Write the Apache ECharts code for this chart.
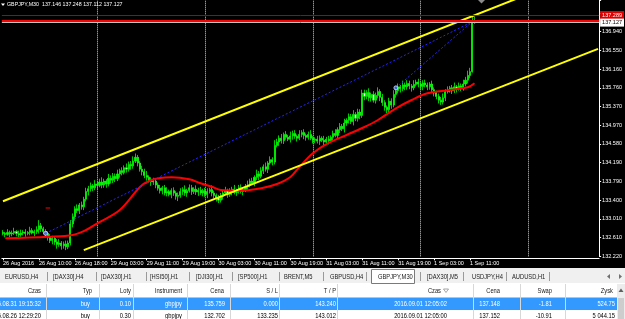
<!DOCTYPE html>
<html><head><meta charset="utf-8">
<script src="https://cdn.jsdelivr.net/npm/echarts@6/dist/echarts.min.js"></script>
<style>html,body{margin:0;padding:0;background:#000;overflow:hidden}#c{width:625px;height:319px}</style>
</head><body><div id="c"></div>
<script>
// ---------- data ----------
const timeLabels = ['26 Aug 2016','26 Aug 10:00','26 Aug 18:00','29 Aug 03:00','29 Aug 11:00','29 Aug 19:00','30 Aug 03:00','30 Aug 11:00','30 Aug 19:00','31 Aug 03:00','31 Aug 11:00','31 Aug 19:00','1 Sep 03:00','1 Sep 11:00'];
const priceLabels = ['132.220','132.610','133.010','133.400','133.790','134.190','134.580','134.970','135.370','135.760','136.160','136.550','136.940'];
const firstOpen = 132.72;
const closes = [
132.70,132.68,132.72,132.69,132.71,132.74,132.70,132.67,132.71,132.73,
132.70,132.72,132.76,132.71,132.74,132.78,132.86,132.80,132.74,132.70,
132.62,132.55,132.60,132.52,132.47,132.50,132.44,132.48,132.42,132.50,
132.90,133.05,133.22,133.18,133.30,133.26,133.42,133.58,133.64,133.70,
133.66,133.74,133.71,133.78,133.72,133.80,133.74,133.86,133.82,133.90,
133.85,133.95,134.02,133.98,134.08,134.05,134.15,134.12,134.22,134.30,
134.18,134.05,134.00,133.92,133.88,133.82,133.78,133.80,133.72,133.65,
133.60,133.66,133.55,133.58,133.52,133.60,133.55,133.48,133.50,133.58,
133.62,133.55,133.60,133.66,133.58,133.63,133.57,133.61,133.55,133.60,
133.52,133.58,133.62,133.55,133.50,133.45,133.40,133.48,133.55,133.60,
133.52,133.58,133.63,133.56,133.60,133.66,133.58,133.62,133.68,133.72,
133.80,133.76,133.88,133.95,133.90,134.02,134.10,134.05,134.18,134.25,
134.20,134.55,134.62,134.70,134.65,134.78,134.72,134.68,134.75,134.80,
134.74,134.70,134.78,134.82,134.76,134.72,134.78,134.70,134.66,134.68,
134.64,134.70,134.66,134.62,134.68,134.65,134.72,134.80,134.76,134.88,
134.95,134.90,135.02,135.08,135.15,135.05,135.20,135.12,135.25,135.18,
135.65,135.58,135.66,135.55,135.62,135.50,135.60,135.68,135.56,135.45,
135.35,135.30,135.48,135.40,135.62,135.70,135.78,135.74,135.82,135.78,
135.85,135.80,135.76,135.83,135.88,135.84,135.79,135.86,135.82,135.78,
135.84,135.72,135.66,135.58,135.50,135.46,135.55,135.68,135.72,135.76,
135.70,135.78,135.74,135.80,135.76,135.84,135.92,136.02,136.10,137.15,
137.127];
// upper / lower wicks in hundredths of a yen
const wickUp = [
5,3,7,4,5,8,3,6,7,4, 6,3,8,5,4,7,12,6,4,5, 4,7,5,3,6,8,4,5,7,5, 8,7,5,9,4,7,5,8,6,7,
4,8,6,7,10,5,4,9,6,7, 6,9,4,7,5,9,6,7,10,8, 5,4,7,6,9,4,6,7,4,5, 7,4,6,9,4,5,7,4,6,7,
5,9,4,7,6,4,8,5,7,4, 6,7,4,9,5,4,6,7,5,8, 4,7,5,9,4,6,7,4,6,9, 5,7,4,9,6,7,5,9,4,7,
5,11,7,6,9,4,7,5,9,6, 7,4,9,5,7,4,6,9,5,4, 7,6,4,9,5,7,4,6,9,5, 7,5,9,4,7,6,9,5,7,6,
7,7,5,9,4,7,6,9,5,7, 5,4,7,6,9,5,7,4,9,5, 7,6,4,9,5,7,4,6,7,5, 4,7,5,4,6,7,9,5,7,4,
6,9,4,7,5,9,7,10,8,11, 10];
const wickDown = [
4,6,3,7,5,4,6,7,4,5, 7,4,6,3,7,5,8,7,5,9, 7,5,8,6,9,5,8,6,7,5, 5,7,8,5,7,6,7,5,8,6,
7,5,8,4,7,6,8,5,7,6, 7,5,8,6,4,7,5,8,6,4, 7,5,8,6,7,5,8,6,7,5, 6,8,5,7,4,8,6,7,10,5,
7,6,8,4,7,5,6,8,4,7, 5,8,4,7,6,8,6,5,7,4, 7,5,8,4,7,6,4,8,5,7, 5,4,7,6,8,4,7,5,8,4,
7,5,4,8,6,7,5,4,7,8, 5,7,4,6,8,7,5,4,7,6, 5,8,4,7,6,8,5,7,4,6, 7,5,8,6,7,5,8,6,7,8,
5,8,6,7,8,5,7,6,8,7, 7,7,6,8,5,7,6,8,5,7, 6,7,8,5,4,7,6,8,5,7, 6,7,8,6,7,6,5,7,4,6,
7,5,8,4,7,6,5,7,6,2, 2];
const maIndex  = [1,20,31,37,42,52,61,65,70,75,83,88,93,97,106,115,122,128,132,138,145,153,161,167,175,182,189,199,207,210];
const maValues = [132.598,132.632,132.668,132.773,132.913,133.193,133.676,133.802,133.865,133.880,133.838,133.754,133.682,133.613,133.598,133.649,133.739,133.886,134.096,134.384,134.601,134.769,134.937,135.084,135.330,135.504,135.645,135.714,135.771,135.855];
const upperChannel = [[0,133.376],[265,138.307]];
const lowerChannel = [[36,132.349],[265,136.577]];
const tradeOpenIdx = [19,175];
const tradeOpenPrice = [132.702,135.759];
const tradeCloseIdx = 209;
const tradeClosePrice = 137.148;
const stopLoss = 133.235;
const levelLine = 137.289, askPrice = 137.167, bidPrice = 137.127;
const dayGridIdx = [42,90,138,186,234];
const totalSlots = 266;

// ---------- build ----------
const cats = [];
for (let i = 0; i < totalSlots; i++) cats.push(String(i));
const ohlc = closes.map((c, i) => {
  const o = i === 0 ? firstOpen : closes[i - 1];
  return [o, c, Math.min(o, c) - wickDown[i] / 100, Math.max(o, c) + wickUp[i] / 100];
});
const ma = maIndex.map((x, k) => [x, maValues[k]]);
const yMin = 132.22, yStep = 0.393333, yMax = 137.605;
const FONT = 'Liberation Sans, Arial, sans-serif';

const chart = echarts.init(document.getElementById('c'), null, {renderer: 'canvas'});

function T(x, y, text, opt) {
  opt = opt || {};
  return {type: 'text', x: x, y: y, scaleX: opt.sx || 0.72, z: 100,
    style: {text: text, fill: opt.color || '#000', font: (opt.size || 8) + 'px ' + FONT,
      align: opt.align || 'left', verticalAlign: 'middle', textAlign: opt.align || 'left', textVerticalAlign: 'middle'}};
}
const g = [];
g.push({type: 'polygon', shape: {points: [[1,3.5],[5,3.5],[3,6]]}, style: {fill: '#fff'}, z: 100});
g.push(T(7, 5, 'GBPJPY,M30  137.146 137.248 137.112 137.127', {color: '#fff', size: 5.3, sx: 1}));
g.push({type: 'polygon', shape: {points: [[478,0],[485,0],[481.5,3.5]]}, style: {fill: '#8a8a8a'}, z: 100});
g.push({type: 'rect', shape: {x: 0, y: 268, width: 625, height: 15}, style: {fill: '#f0f0f0'}, z: 90});
g.push({type: 'rect', shape: {x: 371.5, y: 269.5, width: 43, height: 14}, style: {fill: '#fff', stroke: '#7a7a7a', lineWidth: 1}, z: 91});
const tabs = [['EURUSD,H4',5],['[DAX30],H4',53],['[DAX30],H1',101],['[HSI50],H1',150],['[DJI30],H1',196],['[SP500],H1',238],['BRENT,M5',284],['GBPUSD,H4',330],['GBPJPY,M30',378],['[DAX30],M5',427],['USDJPY,H4',472],['AUDUSD,H1',512]];
tabs.forEach(t => g.push(T(t[1], 276.5, t[0], {color: '#202020'})));
[47,96,146,189,232,279,323,366,420,463,506,549].forEach(x => g.push({type: 'line', shape: {x1: x + 0.5, y1: 272, x2: x + 0.5, y2: 281}, style: {stroke: '#9a9a9a', lineWidth: 1}, z: 92}));
g.push({type: 'polygon', shape: {points: [[610,274],[610,279],[607,276.5]]}, style: {fill: '#707070'}, z: 92});
g.push({type: 'polygon', shape: {points: [[619,274],[619,279],[622,276.5]]}, style: {fill: '#707070'}, z: 92});
g.push({type: 'rect', shape: {x: 0, y: 283, width: 625, height: 36}, style: {fill: '#fff'}, z: 90});
g.push({type: 'rect', shape: {x: 0, y: 297.5, width: 617, height: 12.5}, style: {fill: '#3399ff'}, z: 91});
const colSep = [46,99,133,187,230,279,337,473,520,565,617];
colSep.forEach(x => g.push({type: 'line', shape: {x1: x + 0.5, y1: 284, x2: x + 0.5, y2: 319}, style: {stroke: '#d8d8d8', lineWidth: 1}, z: 92}));
const headers = [['Czas',41],['Typ',92],['Loty',131],['Instrument',182],['Cena',224],['S / L',278],['T / P',336],['Czas',441],['Cena',500],['Swap',552],['Zysk',613]];
headers.forEach(h => g.push(T(h[1], 290.5, h[0], {color: '#202020', align: 'right'})));
g.push({type: 'polygon', shape: {points: [[443.5,289],[448.5,289],[446,292.5]]}, style: {stroke: '#909090', fill: '#fff', lineWidth: 0.8}, z: 93});
const row1 = [['2016.08.31 19:15:32',41],['buy',90],['0.10',131],['gbpjpy',182],['135.759',225],['0.000',278],['143.240',336],['2016.09.01 12:05:02',447],['137.148',500],['-1.81',552],['524.75',615]];
const row2 = [['2016.08.26 12:29:20',41],['buy',90],['0.30',131],['gbpjpy',182],['132.702',225],['133.235',278],['143.012',336],['2016.09.01 12:05:00',447],['137.152',500],['-10.91',552],['5 044.15',615]];
row1.forEach(c => g.push(T(c[1], 303.7, c[0], {color: '#fff', align: 'right'})));
row2.forEach(c => g.push(T(c[1], 315.5, c[0], {color: '#000', align: 'right'})));
g.push({type: 'rect', shape: {x: 617, y: 284, width: 8, height: 35}, style: {fill: '#ececec'}, z: 93});
g.push({type: 'polygon', shape: {points: [[618.5,292],[623.5,292],[621,288.5]]}, style: {fill: '#606060'}, z: 94});
g.push({type: 'rect', shape: {x: 618, y: 298, width: 6, height: 21}, style: {fill: '#cdcdcd'}, z: 94});

const option = {
  backgroundColor: '#000',
  animation: false,
  grid: {left: -2.64, top: 0, width: 606.4, height: 256.3, containLabel: false},
  xAxis: {
    type: 'category', data: cats, boundaryGap: true, offset: 2,
    axisLine: {show: true, lineStyle: {color: '#fff', width: 1}},
    axisTick: {show: true, alignWithLabel: true, length: 2, lineStyle: {color: '#fff'},
      interval: (i) => i % 16 === 0 && i / 16 < timeLabels.length},
    axisLabel: {color: '#fff', fontSize: 5.5, fontFamily: FONT, align: 'left', margin: 2,
      interval: (i) => i % 16 === 0 && i / 16 < timeLabels.length,
      formatter: (v, i) => (i % 16 === 0 && i / 16 < timeLabels.length) ? timeLabels[i / 16] : ''},
    splitLine: {show: false}
  },
  yAxis: {
    type: 'value', position: 'right', min: yMin, max: yMax, interval: yStep, scale: true,
    axisLine: {show: true, lineStyle: {color: '#fff', width: 1}},
    axisTick: {show: true, length: 2, lineStyle: {color: '#fff'}},
    axisLabel: {color: '#fff', fontSize: 5.5, fontFamily: FONT, margin: 3,
      formatter: (v) => { const k = Math.round((v - yMin) / yStep); return (Math.abs(v - (yMin + k * yStep)) < 0.01 && k >= 0 && k < priceLabels.length) ? priceLabels[k] : ''; }},
    splitLine: {show: false}
  },
  graphic: {elements: g},
  series: [
    {type: 'line', data: [], z: 1, silent: true,
      markLine: {silent: true, symbol: 'none', z: 1, label: {show: false},
        lineStyle: {color: '#d0d0d0', type: [1, 1], width: 1},
        data: dayGridIdx.map(i => ({xAxis: i}))}},
    {type: 'candlestick', data: ohlc, barWidth: 1.6, z: 2, silent: true,
      itemStyle: {color: '#00ff00', color0: '#ffffff', borderColor: '#00ff00', borderColor0: '#00ff00', borderWidth: 0.8}},
    {type: 'line', data: ma, smooth: 0.35, showSymbol: false, z: 3, silent: true,
      lineStyle: {color: '#ff0000', width: 2}},
    {type: 'line', data: upperChannel, showSymbol: false, z: 4, clip: true, silent: true, lineStyle: {color: '#ffff00', width: 2}},
    {type: 'line', data: lowerChannel, showSymbol: false, z: 4, clip: true, silent: true, lineStyle: {color: '#ffff00', width: 2}},
    {type: 'line', data: [[tradeOpenIdx[0], tradeOpenPrice[0]], [tradeCloseIdx, tradeClosePrice]], showSymbol: false, z: 4, silent: true, lineStyle: {color: '#2626ff', width: 1, type: [2, 2]}},
    {type: 'line', data: [[tradeOpenIdx[1], tradeOpenPrice[1]], [tradeCloseIdx, tradeClosePrice]], showSymbol: false, z: 4, silent: true, lineStyle: {color: '#2626ff', width: 1, type: [2, 2]}},
    {type: 'line', data: [[tradeOpenIdx[0], stopLoss], [tradeOpenIdx[0] + 2, stopLoss]], showSymbol: false, z: 4, silent: true, lineStyle: {color: '#ff0000', width: 1}},
    {type: 'scatter', data: tradeOpenIdx.map((x, k) => [x, tradeOpenPrice[k]]), symbol: 'circle', symbolSize: 4, z: 5, silent: true,
      itemStyle: {color: '#3a7bff', borderColor: '#d8e6ff', borderWidth: 1}},
    {type: 'line', data: [], z: 6, silent: true,
      markLine: {silent: true, symbol: 'none', z: 6,
        data: [
          {yAxis: levelLine, lineStyle: {color: '#b40000', width: 1, type: 'solid'},
            label: {show: true, position: 'end', distance: 1, formatter: '137.289', color: '#fff', backgroundColor: '#e00000', fontSize: 5.5, fontFamily: FONT, padding: [1, 2, 1, 2]}},
          {yAxis: askPrice, lineStyle: {color: '#ff0000', width: 2, type: 'solid'}, label: {show: false}},
          {yAxis: bidPrice, lineStyle: {color: '#c0c0c0', width: 1, type: 'solid'},
            label: {show: true, position: 'end', distance: 1, formatter: '137.127', color: '#000', backgroundColor: '#ffffff', fontSize: 5.5, fontFamily: FONT, padding: [1, 2, 1, 2]}}
        ]}}
  ]
};
chart.setOption(option);
</script></body></html>
